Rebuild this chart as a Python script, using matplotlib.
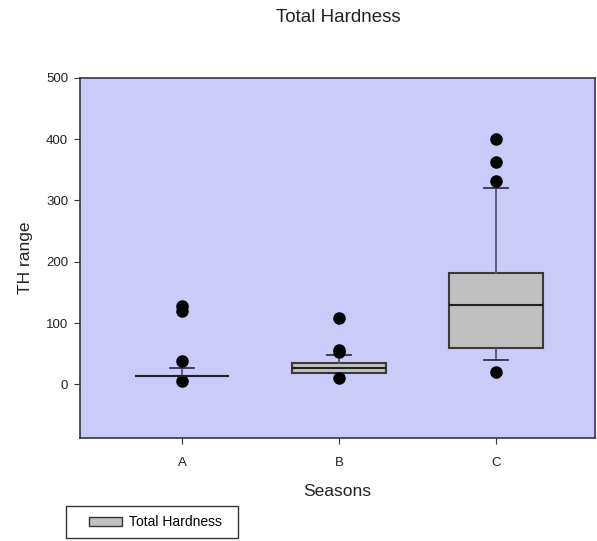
import matplotlib.pyplot as plt
from matplotlib.patches import Patch, Rectangle

plt.rcParams["font.family"] = ["Liberation Sans", "DejaVu Sans"]

# box summary
seasons = ["A", "B", "C"]
med = [14, 26, 129]
q1 = [14, 18, 59]
q3 = [14, 34, 182]
whislo = [14, 18, 39]
whishi = [26, 47, 321]
fliers = [[128, 120, 38, 5], [108, 56, 52, 11], [400, 362, 331, 20]]

stats = []
for i in range(len(seasons)):
    stats.append(dict(label=seasons[i], med=med[i], q1=q1[i], q3=q3[i],
                      whislo=whislo[i], whishi=whishi[i], fliers=fliers[i]))

fig = plt.figure(figsize=(5.97, 5.41), dpi=100)
ax = fig.add_axes([0.134, 0.19, 0.8626, 0.666])
ax.set_facecolor("#cbcbfa")

ax.bxp(stats, positions=[1, 2, 3], widths=0.6, patch_artist=True,
       capwidths=0.15,
       boxprops=dict(facecolor="#c0c0c0", edgecolor="#3a3a3a", linewidth=1.5),
       medianprops=dict(color="#222222", linewidth=1.5),
       whiskerprops=dict(color="#55557a", linewidth=1.3),
       capprops=dict(color="#33334a", linewidth=1.3),
       flierprops=dict(marker="o", markerfacecolor="black", markeredgecolor="black",
                       markersize=8))

ax.set_xlim(0.35, 3.63)
ax.set_ylim(-88, 500)
ax.set_yticks([0, 100, 200, 300, 400, 500])
ax.tick_params(axis="both", labelsize=9.5, length=4.5, color="#333333",
               labelcolor="#222222", direction="out")
ax.tick_params(axis="x", pad=9)
ax.tick_params(axis="y", pad=4)
for s in ax.spines.values():
    s.set_color("#333344")
    s.set_linewidth(1.2)

ax.set_xlabel("Seasons", fontsize=12.5, color="#222222", labelpad=11)
ax.set_ylabel("TH range", fontsize=12.5, color="#222222", labelpad=9)
fig.text(0.566, 0.968, "Total Hardness", ha="center", va="center", fontsize=13.5, color="#222222")

# legend frame drawn by hand so the entry can sit inset like the original
fig.patches.append(Rectangle((66 / 597, 3 / 541), 172 / 597, 32 / 541, transform=fig.transFigure,
                             fill=False, edgecolor="#333333", linewidth=1.0))
leg = fig.legend(handles=[Patch(facecolor="#c0c0c0", edgecolor="#333333", label="Total Hardness")],
                 loc="center left", bbox_to_anchor=(89 / 597, 19 / 541), borderaxespad=0,
                 borderpad=0, fontsize=10, frameon=False, handlelength=2.4,
                 handleheight=0.6, handletextpad=0.5)

fig.savefig("out.png", dpi=100)
